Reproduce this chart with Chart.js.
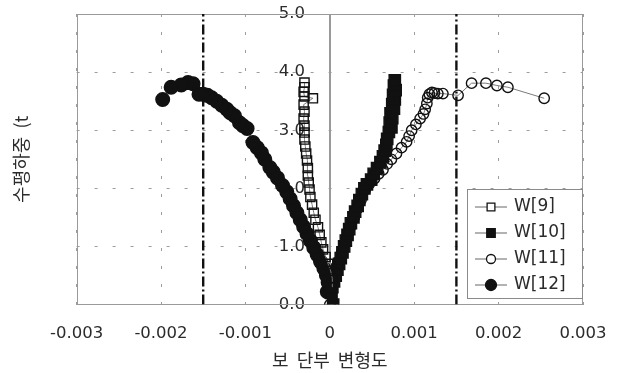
<!DOCTYPE html>
<html>
<head>
<meta charset="utf-8">
<script src="https://cdn.jsdelivr.net/npm/chart.js@4.4.1/dist/chart.umd.min.js"></script>
<style>
  html, body { margin: 0; padding: 0; background: #fff; }
  #wrap { width: 628px; height: 373px; }
</style>
</head>
<body>
<div id="wrap"><canvas id="strain-chart"></canvas></div>
<script>
// Axis ticks
const xTicks = [-0.003, -0.002, -0.001, 0, 0.001, 0.002, 0.003];
const yTicks = [0, 1, 2, 3, 4, 5];

// Yield strain reference lines
const limitStrain = [-0.0015, 0.0015];

const seriesNames = ['W[9]', 'W[10]', 'W[11]', 'W[12]'];

// W[9] - beam end strain / horizontal load
const w9Strain = [0.00003, 0.00003, 0.00001, -0.00002, -0.00005, -0.00008, -0.00010, -0.00012, -0.00014, -0.00017,
                  -0.00019, -0.00021, -0.00023, -0.00024, -0.00025, -0.00026, -0.00026, -0.00027, -0.00028, -0.00029,
                  -0.00030, -0.00030, -0.00030, -0.00031, -0.00030, -0.00031, -0.00020, -0.00030, -0.00031, -0.00030, -0.00030];
const w9Load   = [0.30, 0.45, 0.58, 0.70, 0.82, 0.95, 1.07, 1.20, 1.33, 1.46,
                  1.58, 1.72, 1.85, 1.98, 2.10, 2.22, 2.35, 2.48, 2.60, 2.72,
                  2.84, 2.96, 3.08, 3.20, 3.32, 3.44, 3.55, 3.58, 3.66, 3.74, 3.82];

// W[10]
const w10Strain = [0.00004, 0.00002, 0.00003, 0.00005, 0.00007, 0.00009, 0.00011, 0.00013, 0.00015, 0.00017, 0.00019,
                   0.00021, 0.00023, 0.00025, 0.00028, 0.00030, 0.00033, 0.00035, 0.00038, 0.00041, 0.00044,
                   0.00049, 0.00052, 0.00056, 0.00060, 0.00063, 0.00065, 0.00067, 0.00068,
                   0.00070, 0.00073, 0.00071, 0.00074, 0.00072, 0.00076, 0.00074, 0.00077, 0.00075, 0.00078, 0.00076, 0.00077];
const w10Load   = [0.00, 0.20, 0.30, 0.40, 0.50, 0.60, 0.70, 0.80, 0.90, 1.00, 1.10,
                   1.20, 1.30, 1.40, 1.50, 1.60, 1.70, 1.80, 1.90, 2.00, 2.07,
                   2.15, 2.25, 2.35, 2.45, 2.55, 2.65, 2.75, 2.85,
                   2.97, 3.05, 3.13, 3.21, 3.29, 3.37, 3.45, 3.53, 3.61, 3.69, 3.77, 3.86];

// W[11]
const w11Strain = [0.00000, 0.00002, 0.00005, 0.00008, 0.00011, 0.00014, 0.00018, 0.00021, 0.00025, 0.00029, 0.00033,
                   0.00037, 0.00042, 0.00047, 0.00053, 0.00058, 0.00063, 0.00068, 0.00073, 0.00079, 0.00085,
                   0.00091, 0.00094, 0.00097, 0.00102, 0.00107, 0.00111, 0.00113, 0.00115, 0.00116, 0.00118,
                   0.00121, 0.00124, 0.00128, 0.00134, 0.00152, 0.00168, 0.00185, 0.00198, 0.00211, 0.00254];
const w11Load   = [0.00, 0.30, 0.45, 0.60, 0.75, 0.90, 1.05, 1.20, 1.35, 1.50, 1.65,
                   1.80, 1.98, 2.08, 2.17, 2.25, 2.32, 2.42, 2.50, 2.60, 2.70,
                   2.80, 2.90, 3.00, 3.10, 3.20, 3.28, 3.36, 3.46, 3.56, 3.62,
                   3.65, 3.64, 3.63, 3.63, 3.60, 3.81, 3.81, 3.77, 3.74, 3.55];

// W[12]
const w12Strain = [-0.00003, 0.00000, -0.00002, -0.00004, -0.00007, -0.00011, -0.00015, -0.00019, -0.00023, -0.00027,
                   -0.00031, -0.00035, -0.00039, -0.00043, -0.00047, -0.00051, -0.00056, -0.00062, -0.00067, -0.00071,
                   -0.00077, -0.00081, -0.00086, -0.00091, -0.00098, -0.00103, -0.00107, -0.00113, -0.00118, -0.00122,
                   -0.00128, -0.00134, -0.00140, -0.00145, -0.00150, -0.00155, -0.00162, -0.00168, -0.00176, -0.00188, -0.00198];
const w12Load   = [0.22, 0.28, 0.38, 0.50, 0.62, 0.74, 0.86, 0.98, 1.10, 1.22,
                   1.34, 1.46, 1.58, 1.70, 1.82, 1.94, 2.05, 2.18, 2.28, 2.36,
                   2.50, 2.61, 2.70, 2.79, 3.03, 3.08, 3.13, 3.25, 3.30, 3.36,
                   3.43, 3.50, 3.56, 3.60, 3.62, 3.62, 3.80, 3.82, 3.78, 3.74, 3.53];

const TEXT = '#2b2b2b';
const FRAME = '#9a9a9a';
const GRID = '#9c9c9c';
const INK = '#111';

const tickFont = { family: '"DejaVu Sans", sans-serif', size: 16.5 };
const titleFont = { family: '"Noto Sans CJK KR", sans-serif', size: 18 };

function pairs(xs, ys) {
    return xs.map((x, i) => ({ x: x, y: ys[i] }));
}

// marker look per wall: hollow markers let overlapping outlines show
const markers = [
    { style: 'rect',   radius: 6.5, fill: 'rgba(255,255,255,0)', legendRadius: 5.5, legendFill: '#fff' },
    { style: 'rect',   radius: 8,   fill: INK,                   legendRadius: 6,   legendFill: INK },
    { style: 'circle', radius: 5.2, fill: 'rgba(255,255,255,0)', legendRadius: 4.5, legendFill: '#fff' },
    { style: 'circle', radius: 6.8, fill: INK,                   legendRadius: 5.5, legendFill: INK }
];

const series = [
    pairs(w9Strain, w9Load),
    pairs(w10Strain, w10Load),
    pairs(w11Strain, w11Load),
    pairs(w12Strain, w12Load)
];

const datasets = series.map((data, i) => ({
    label: seriesNames[i],
    data: data,
    showLine: true,
    borderColor: '#7a7a7a',
    borderWidth: 1,
    pointStyle: markers[i].style,
    pointRadius: markers[i].radius,
    pointBackgroundColor: markers[i].fill,
    pointBorderColor: INK,
    pointBorderWidth: 1.4,
    legendMarker: markers[i]
}));

// dash-dot yield lines, full height of the plot
limitStrain.forEach(s => {
    datasets.push({
        label: 'limit',
        data: [{ x: s, y: yTicks[0] }, { x: s, y: yTicks[yTicks.length - 1] }],
        showLine: true,
        borderColor: INK,
        borderWidth: 2.4,
        borderDash: [10, 3, 2, 3],
        pointRadius: 0
    });
});

// Plot frame and the solid zero-strain axis line
const plotFrame = {
    id: 'plotFrame',
    beforeDatasetsDraw(chart) {
        const { ctx, chartArea: a } = chart;
        const x0 = Math.round(chart.scales.x.getPixelForValue(0)) + 0.5;
        ctx.save();
        ctx.strokeStyle = FRAME;
        ctx.lineWidth = 1;
        ctx.strokeRect(Math.round(a.left) + 0.5, Math.round(a.top) + 0.5,
                       Math.round(a.width) - 1, Math.round(a.height) - 1);
        ctx.beginPath();
        ctx.moveTo(x0, a.top);
        ctx.lineTo(x0, a.bottom);
        ctx.stroke();
        ctx.restore();
    }
};

// Boxed legend in the lower right corner, line through marker
const boxLegend = {
    id: 'boxLegend',
    afterDatasetsDraw(chart) {
        const { ctx, chartArea: a } = chart;
        const w = 116, h = 110, rowH = 26;
        const right = Math.round(a.right), bottom = Math.round(a.bottom) - 6;
        const left = right - w, top = bottom - h;
        ctx.save();
        ctx.fillStyle = '#fff';
        ctx.fillRect(left, top, w, h);
        ctx.strokeStyle = '#8a8a8a';
        ctx.lineWidth = 1;
        ctx.strokeRect(left + 0.5, top + 0.5, w - 1, h - 1);
        chart.data.datasets.forEach((ds, i) => {
            if (!ds.legendMarker) return;
            const m = ds.legendMarker;
            const cy = top + 18 + i * rowH;
            const mx = left + 24;
            ctx.strokeStyle = '#666';
            ctx.lineWidth = 1;
            ctx.beginPath();
            ctx.moveTo(left + 8, cy);
            ctx.lineTo(left + 40, cy);
            ctx.stroke();
            ctx.fillStyle = m.legendFill;
            ctx.strokeStyle = INK;
            ctx.lineWidth = 1.3;
            Chart.helpers.drawPoint(ctx, { pointStyle: m.style, radius: m.legendRadius, rotation: 0, borderWidth: 1.3 }, mx, cy);
            ctx.fillStyle = TEXT;
            ctx.font = '17px "DejaVu Sans", sans-serif';
            ctx.textBaseline = 'middle';
            ctx.textAlign = 'left';
            ctx.fillText(ds.label, left + 47, cy);
        });
        ctx.restore();
    }
};

new Chart(document.getElementById('strain-chart'), {
    type: 'scatter',
    data: { datasets: datasets },
    plugins: [plotFrame, boxLegend],
    options: {
        responsive: true,
        maintainAspectRatio: false,
        animation: false,
        layout: { padding: { left: 0, right: 45, top: 14, bottom: 0 } },
        plugins: {
            legend: { display: false },
            tooltip: { enabled: false }
        },
        scales: {
            x: {
                type: 'linear',
                position: 'bottom',
                min: xTicks[0],
                max: xTicks[xTicks.length - 1],
                afterBuildTicks: axis => { axis.ticks = xTicks.map(v => ({ value: v })); },
                ticks: {
                    autoSkip: false,
                    maxRotation: 0,
                    padding: 19,
                    color: TEXT,
                    font: tickFont,
                    callback: v => (v === 0 ? '0' : v.toFixed(3))
                },
                grid: { color: GRID, lineWidth: 1, drawTicks: false },
                border: { display: true, color: FRAME, dash: [3, 15] },
                title: { display: true, text: '보  단부  변형도', color: TEXT, font: titleFont, padding: { top: -13, bottom: 2 } }
            },
            y: {
                type: 'linear',
                position: { x: 0 },
                min: yTicks[0],
                max: yTicks[yTicks.length - 1],
                afterBuildTicks: axis => { axis.ticks = yTicks.map(v => ({ value: v })); },
                ticks: {
                    color: TEXT,
                    font: tickFont,
                    // trailing em + en space keeps the label clear of the zero line
                    callback: v => v.toFixed(1) + '\u2003\u2002'
                },
                grid: { color: GRID, lineWidth: 1, drawTicks: false },
                border: { display: true, color: FRAME, dash: [3, 15] }
            },
            yTitle: {
                type: 'linear',
                position: 'left',
                min: yTicks[0],
                max: yTicks[yTicks.length - 1],
                ticks: { display: false },
                grid: { display: false, drawTicks: false },
                border: { display: false },
                title: { display: true, text: '수평하중  (t', color: TEXT, font: titleFont, padding: { top: 10, bottom: 45 } }
            }
        }
    }
});
</script>
</body>
</html>
